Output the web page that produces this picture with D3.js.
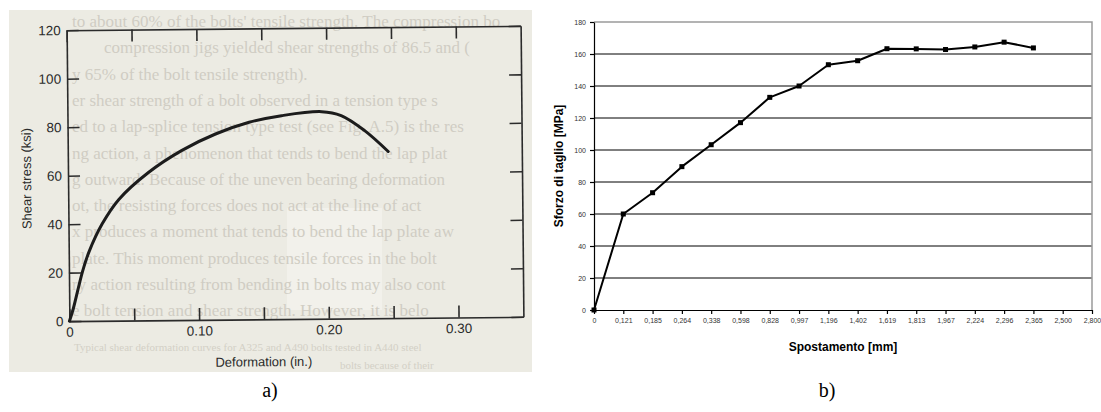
<!DOCTYPE html>
<html>
<head>
<meta charset="utf-8">
<title>Shear tests - a) and b)</title>
<script src="https://d3js.org/d3.v7.min.js"></script>
<style>
  body { margin: 0; background: #fff; }
  svg { display: block; }
</style>
</head>
<body>
<svg id="chart"></svg>
<script>
// ---- panel a) : shear stress vs deformation (scanned book figure)
const deformation = [0, 0.003, 0.0105, 0.0156, 0.026, 0.039, 0.062, 0.088, 0.114, 0.140, 0.165, 0.196, 0.211, 0.229, 0.247];
const shearKsi    = [0, 5, 20.5, 28.5, 40, 50, 61, 70, 76.6, 81.3, 83.9, 85.4, 83.7, 77.4, 68.7];
const aXTicks  = [0, 0.05, 0.10, 0.15, 0.20, 0.25, 0.30];
const aXLabels = ["0", "", "0.10", "", "0.20", "", "0.30"];
const aYTicks  = [0, 20, 40, 60, 80, 100, 120];

// faint text showing through from the book page
const pageLines = [
  "to about 60% of the bolts' tensile strength. The compression bo",
  "compression jigs yielded shear strengths of 86.5 and (",
  "y 65% of the bolt tensile strength).",
  "er shear strength of a bolt observed in a tension type s",
  "ed to a lap-splice tension type test (see Fig. A.5) is the res",
  "ng action, a phenomenon that tends to bend the lap plat",
  "g outward. Because of the uneven bearing deformation",
  "ot, the resisting forces does not act at the line of act",
  "x produces a moment that tends to bend the lap plate aw",
  "plate. This moment produces tensile forces in the bolt",
  "ry action resulting from bending in bolts may also cont",
  "e bolt tension and shear strength. However, it is belo"
];
const captionLines = [
  "Typical shear deformation curves for A325 and A490 bolts tested in A440 steel",
  "bolts because of their"
];

// ---- panel b) : sforzo di taglio vs spostamento
const spostamento = ["0", "0,121", "0,185", "0,264", "0,338", "0,598", "0,828", "0,997", "1,196",
  "1,402", "1,619", "1,813", "1,967", "2,224", "2,296", "2,365", "2,500", "2,800"];
const sforzo = [0, 60, 73.3, 89.6, 103.3, 117.1, 132.9, 140, 153.3, 155.8, 163.3, 163.2, 162.8, 164.4, 167.4, 163.8];
const bYTicks = [0, 20, 40, 60, 80, 100, 120, 140, 160, 180];

const svg = d3.select("#chart")
  .attr("width", 1101)
  .attr("height", 412);

// ================= panel a) =================
const pa = svg.append("g");

svg.append("defs").append("clipPath").attr("id", "scan")
  .append("rect").attr("x", 9).attr("y", 10).attr("width", 523).attr("height", 362);

pa.append("rect")
  .attr("x", 9).attr("y", 10).attr("width", 523).attr("height", 362)
  .attr("fill", "#ecebe3");

const page = pa.append("g").attr("clip-path", "url(#scan)");
page.append("rect").attr("x", 287).attr("y", 208).attr("width", 95).attr("height", 102)
  .attr("fill", "#f2f1eb");

page.selectAll(".pline")
  .data(pageLines)
  .enter().append("text")
  .attr("class", "pline")
  .attr("x", (d, i) => i == 1 ? 104 : 72)
  .attr("y", (d, i) => 27 + i * 26.3)
  .style("font-family", "'Liberation Serif', 'Times New Roman', serif")
  .style("font-size", "17px")
  .style("fill", "#d0cdc3")
  .text(d => d);

page.selectAll(".cline")
  .data(captionLines)
  .enter().append("text")
  .attr("class", "cline")
  .attr("x", (d, i) => i == 0 ? 74 : 340)
  .attr("y", (d, i) => 351 + i * 18)
  .style("font-family", "'Liberation Serif', 'Times New Roman', serif")
  .style("font-size", "11px")
  .style("fill", "#d3d0c6")
  .text(d => d);

// the scan is slightly tilted
const fig = pa.append("g").attr("transform", "rotate(-0.55, 295, 172)");

const ax = d3.scaleLinear().domain([0, 0.35]).range([68, 522]);
const ay = d3.scaleLinear().domain([0, 120]).range([319, 28]);

const inkA = "#2b2b2b";

fig.append("g")
  .attr("transform", "translate(0,319)")
  .call(d3.axisBottom(ax).tickValues(aXTicks).tickSizeInner(-12).tickSizeOuter(0).tickPadding(6)
    .tickFormat((d, i) => aXLabels[i]));
fig.append("g")
  .attr("transform", "translate(0,28)")
  .call(d3.axisTop(ax).tickValues(aXTicks).tickSizeInner(-12).tickSizeOuter(0).tickFormat(""));
fig.append("g")
  .attr("transform", "translate(68,0)")
  .call(d3.axisLeft(ay).tickValues(aYTicks).tickSizeInner(-12).tickSizeOuter(0).tickPadding(6)
    .tickFormat(d3.format("d")));
fig.append("g")
  .attr("transform", "translate(522,0)")
  .call(d3.axisRight(ay).tickValues(aYTicks).tickSizeInner(-12).tickSizeOuter(0).tickFormat(""));

fig.selectAll(".domain, .tick line")
  .attr("stroke", inkA)
  .attr("stroke-width", 1.6);
fig.selectAll(".tick text")
  .style("font-family", "'Liberation Sans', Arial, sans-serif")
  .style("font-size", "13.5px")
  .style("fill", inkA);

fig.append("path")
  .datum(deformation.map((d, i) => [d, shearKsi[i]]))
  .attr("fill", "none")
  .attr("stroke", "#1c1c1c")
  .attr("stroke-width", 3)
  .attr("stroke-linecap", "round")
  .attr("d", d3.line()
    .x(d => ax(d[0]))
    .y(d => ay(d[1]))
    .curve(d3.curveCatmullRom.alpha(0.5)));

// axis titles
fig.append("text")
  .attr("transform", "translate(31,176) rotate(-90)")
  .attr("text-anchor", "middle")
  .style("font-family", "'Liberation Sans', Arial, sans-serif")
  .style("font-size", "13px")
  .style("fill", inkA)
  .text("Shear stress  (ksi)");

fig.append("text")
  .attr("x", 262)
  .attr("y", 366)
  .attr("text-anchor", "middle")
  .style("font-family", "'Liberation Sans', Arial, sans-serif")
  .style("font-size", "13px")
  .style("fill", inkA)
  .text("Deformation  (in.)");

// ================= panel b) =================
const pb = svg.append("g");

const bx = d3.scalePoint().domain(spostamento).range([594, 1092]);
const by = d3.scaleLinear().domain([0, 180]).range([310, 22]);

// gridlines
pb.append("g")
  .selectAll("line")
  .data(bYTicks.filter(d => d > 0 && d < 180))
  .enter().append("line")
  .attr("x1", 594).attr("x2", 1092)
  .attr("y1", d => by(d)).attr("y2", d => by(d))
  .attr("stroke", "#000")
  .attr("stroke-width", 1);

// plot area border (top and right)
pb.append("path")
  .attr("d", `M594,${by(180)}H1092V${by(0)}`)
  .attr("fill", "none")
  .attr("stroke", "#9a9a9a")
  .attr("stroke-width", 1.5);

pb.append("g")
  .attr("transform", `translate(0,${by(0)})`)
  .call(d3.axisBottom(bx).tickSizeInner(4).tickSizeOuter(0).tickPadding(4));
pb.append("g")
  .attr("transform", "translate(594,0)")
  .call(d3.axisLeft(by).tickValues(bYTicks).tickSizeInner(4).tickSizeOuter(0).tickPadding(4));

pb.selectAll(".domain, .tick line").attr("stroke", "#000").attr("stroke-width", 1.2);
pb.selectAll(".tick text")
  .style("font-family", "'Liberation Sans', Arial, sans-serif")
  .style("font-size", "7px")
  .style("fill", "#333");

const pts = sforzo.map((v, i) => [spostamento[i], v]);

pb.append("path")
  .datum(pts)
  .attr("fill", "none")
  .attr("stroke", "#000")
  .attr("stroke-width", 2)
  .attr("stroke-linejoin", "round")
  .attr("d", d3.line().x(d => bx(d[0])).y(d => by(d[1])));

pb.selectAll(".mk")
  .data(pts)
  .enter().append("rect")
  .attr("class", "mk")
  .attr("x", d => bx(d[0]) - 2.5)
  .attr("y", d => by(d[1]) - 2.5)
  .attr("width", 5)
  .attr("height", 5)
  .attr("fill", "#000");

pb.append("text")
  .attr("transform", "translate(563,166) rotate(-90)")
  .attr("text-anchor", "middle")
  .style("font-family", "'Liberation Sans', Arial, sans-serif")
  .style("font-size", "12px")
  .style("font-weight", "bold")
  .style("fill", "#000")
  .text("Sforzo di taglio [MPa]");

pb.append("text")
  .attr("x", 843)
  .attr("y", 351)
  .attr("text-anchor", "middle")
  .style("font-family", "'Liberation Sans', Arial, sans-serif")
  .style("font-size", "12px")
  .style("font-weight", "bold")
  .style("fill", "#000")
  .text("Spostamento [mm]");

// ================= panel captions =================
svg.selectAll(".cap")
  .data(["a)", "b)"])
  .enter().append("text")
  .attr("class", "cap")
  .attr("x", (d, i) => i == 0 ? 270 : 827)
  .attr("y", 397)
  .attr("text-anchor", "middle")
  .style("font-family", "'Liberation Serif', 'Times New Roman', serif")
  .style("font-size", "20px")
  .style("fill", "#000")
  .text(d => d);
</script>
</body>
</html>
